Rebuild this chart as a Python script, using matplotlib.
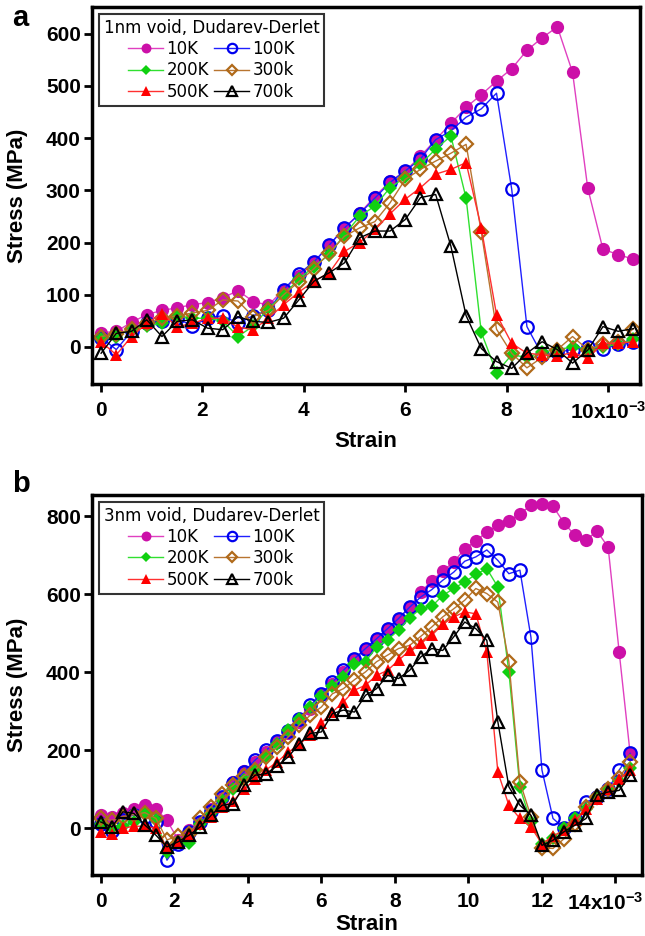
import matplotlib
matplotlib.use("Agg")
import matplotlib.pyplot as plt
import matplotlib.transforms as mtransforms
import numpy as np

plt.rcParams['font.family'] = ['Liberation Sans', 'DejaVu Sans']
plt.rcParams['font.weight'] = 'bold'
plt.rcParams['mathtext.fontset'] = 'custom'
plt.rcParams['mathtext.rm'] = 'Liberation Sans:bold'
plt.rcParams['mathtext.default'] = 'rm'

# strain (x10^-3), one sample every 0.3
strain_a = np.arange(36) * 0.3
strain_b = np.arange(49) * 0.3

# panel a: 1nm void, stress in MPa
a_10K = [27, 30, 47, 62, 70, 75, 81, 85, 94, 108, 87, 80, 110, 135, 162, 195, 228, 256,
         288, 317, 337, 365, 397, 428, 459, 483, 509, 533, 568, 592, 613, 526, 304, 187, 177, 168]
a_100K = [18, -5, 30, 45, 50, 55, 40, 55, 60, 45, 60, 70, 110, 140, 163, 195, 228, 255,
          285, 315, 337, 360, 397, 414, 440, 456, 486, 302, 39, -15, -10, -5, 0, -4, 5, 10]
a_200K = [15, 20, 35, 40, 45, 60, 55, 55, 50, 20, 40, 74, 100, 130, 154, 177, 215, 250,
          270, 305, 325, 350, 379, 404, 285, 28, -49, -15, -20, -10, -5, 0, -3, 0, 5, 15]
a_300K = [20, 25, 35, 45, 55, 60, 65, 70, 90, 88, 58, 70, 100, 125, 150, 180, 212, 228,
          240, 276, 321, 340, 356, 371, 388, 220, 34, -12, -40, -20, -5, 20, -5, 5, 10, 35]
a_500K = [10, -15, 20, 45, 64, 39, 45, 55, 55, 38, 33, 55, 81, 105, 126, 142, 183, 200,
          225, 255, 283, 305, 331, 340, 353, 228, 62, 7, -12, -15, -18, -10, -22, 7, 7, 10]
a_700K = [-12, 26, 30, 52, 20, 49, 52, 36, 33, 58, 49, 47, 55, 90, 126, 142, 161, 209,
          222, 222, 244, 286, 292, 193, 60, -3, -28, -41, -12, 10, -5, -31, -6, 39, 30, 35]

# panel b: 3nm void
b_10K = [33, 30, 40, 50, 59, 50, 20, -29, -5, 16, 50, 80, 118, 146, 170, 196, 221, 245,
         272, 305, 341, 371, 400, 431, 461, 486, 512, 538, 567, 606, 634, 660, 683, 717,
         737, 760, 777, 788, 807, 828, 831, 826, 783, 751, 740, 762, 721, 452, 190]
b_100K = [10, -8, 20, 35, 30, 15, -82, -40, -10, 15, 45, 80, 115, 145, 175, 200, 225, 250,
          280, 315, 345, 375, 405, 435, 461, 486, 512, 538, 567, 593, 612, 636, 657, 685,
          696, 714, 687, 653, 662, 490, 149, 25, 0, 25, 67, 80, 100, 149, 192]
b_200K = [10, 0, 5, 15, 40, 20, -60, -35, -39, 10, 40, 72, 100, 123, 150, 185, 217, 251,
          281, 310, 340, 365, 388, 422, 427, 465, 484, 508, 540, 563, 569, 597, 615, 632,
          651, 666, 619, 401, 105, 15, -40, -25, 0, 25, 50, 80, 100, 120, 155]
b_300K = [25, 20, 30, 35, 40, 25, -30, -20, -15, 25, 55, 89, 110, 135, 149, 183, 208, 234,
          265, 290, 311, 345, 358, 381, 401, 427, 444, 461, 469, 492, 516, 542, 563, 585,
          615, 602, 580, 427, 119, 30, -50, -52, -27, 10, 55, 80, 100, 130, 170]
b_500K = [-10, -15, 0, 5, 5, 0, -50, -35, -15, 10, 30, 55, 70, 100, 125, 150, 170, 195,
          215, 240, 270, 298, 324, 354, 367, 392, 405, 431, 456, 474, 495, 523, 542, 555,
          550, 452, 144, 59, 25, 3, -40, -20, -5, 20, 50, 75, 100, 125, 150]
b_700K = [16, 3, 42, 38, 8, -18, -48, -35, -18, 3, 33, 59, 62, 110, 136, 140, 160, 183,
          217, 243, 247, 294, 303, 298, 341, 358, 392, 384, 405, 439, 461, 456, 491, 529,
          512, 482, 273, 106, 59, 33, -44, -31, -9, 8, 25, 85, 93, 97, 136]

labels = ['10K', '100K', '200K', '300k', '500K', '700k']
line_colors = ['#e040c0', '#2020ff', '#30e030', '#b87530', '#ff3030', '#000000']
mk_colors = ['#cc10a8', '#0000ee', '#10d010', '#b06a1a', '#ff0000', '#000000']
markers = ['o', 'o', 'D', 'D', '^', '^']
filled = [True, False, True, False, True, False]
msizes = [9.5, 9, 7, 7, 9, 9]


def draw(ax, x, series, title):
    handles = []
    for ys, lab, lc, mc, m, f, ms in zip(series, labels, line_colors, mk_colors,
                                         markers, filled, msizes):
        h, = ax.plot(x, ys, color=lc, lw=1.0, marker=m, ms=ms,
                     markerfacecolor=mc if f else 'none', markeredgecolor=mc,
                     markeredgewidth=0 if f else 1.6, label=lab)
        handles.append(h)
    order = [0, 2, 4, 1, 3, 5]
    leg = ax.legend([handles[i] for i in order], [labels[i] for i in order],
                    title=title, ncol=2, loc='upper left', frameon=True, fancybox=False,
                    prop={'family': 'DejaVu Sans', 'weight': 'normal', 'size': 12},
                    title_fontproperties={'family': 'DejaVu Sans', 'weight': 'normal', 'size': 12},
                    handlelength=2.1, handletextpad=0.2, columnspacing=0.3,
                    labelspacing=0.2, borderpad=0.3, markerscale=0.75,
                    borderaxespad=0.4)
    leg.get_frame().set_edgecolor('black')
    leg.get_frame().set_linewidth(1.5)
    for s in ax.spines.values():
        s.set_linewidth(2.5)
    ax.tick_params(direction='out', length=6, width=2, labelsize=15)
    ax.tick_params(axis='x', pad=6)
    ax.tick_params(axis='y', pad=2)
    ax.set_xlabel('Strain', fontsize=16, fontweight='bold')
    ax.set_ylabel('Stress (MPa)', fontsize=16, fontweight='bold')


fig = plt.figure(figsize=(6.45, 9.36), dpi=100)
ax1 = fig.add_axes([0.1426, 0.5897, 0.8496, 0.4028])
ax2 = fig.add_axes([0.1426, 0.0652, 0.8527, 0.406])

draw(ax1, strain_a, [a_10K, a_100K, a_200K, a_300K, a_500K, a_700K],
     '1nm void, Dudarev-Derlet')
ax1.set_xlim(-0.18, 10.63)
ax1.set_ylim(-71, 651)
ax1.set_xticks([0, 2, 4, 6, 8, 10])
ax1.set_xticklabels(['0', '2', '4', '6', '8', r'10x10$^{-3}$'])
ax1.set_yticks([0, 100, 200, 300, 400, 500, 600])
ax1.xaxis.set_label_coords(0.5, -0.125)
ax1.yaxis.set_label_coords(-0.117, 0.5)

draw(ax2, strain_b, [b_10K, b_100K, b_200K, b_300K, b_500K, b_700K],
     '3nm void, Dudarev-Derlet')
ax2.set_xlim(-0.24, 14.72)
ax2.set_ylim(-120, 855)
ax2.set_xticks([0, 2, 4, 6, 8, 10, 12, 14])
ax2.set_xticklabels(['0', '2', '4', '6', '8', '10', '12', r'14x10$^{-3}$'])
ax2.set_yticks([0, 200, 400, 600, 800])
ax2.xaxis.set_label_coords(0.5, -0.102)
ax2.yaxis.set_label_coords(-0.116, 0.5)

# keep the last strain label inside the figure edge
lab = ax2.get_xticklabels()[-1]
lab.set_transform(lab.get_transform() +
                  mtransforms.ScaledTranslation(-10 / 100, 0, fig.dpi_scale_trans))

fig.text(0.032, 0.981, 'a', fontsize=21, fontweight='bold', ha='center', va='center')
fig.text(0.032, 0.483, 'b', fontsize=21, fontweight='bold', ha='center', va='center')

fig.savefig('out.png', dpi=100)
